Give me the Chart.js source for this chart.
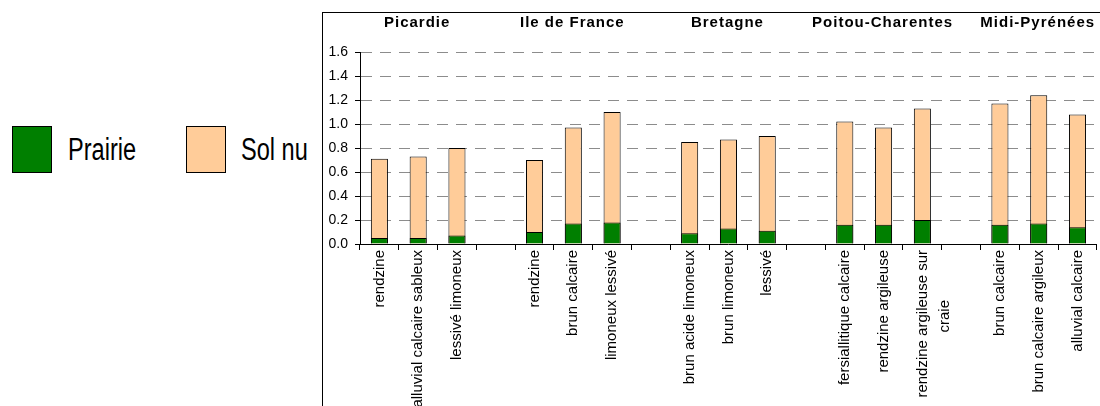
<!DOCTYPE html>
<html>
<head>
<meta charset="utf-8">
<script src="https://cdn.jsdelivr.net/npm/chart.js@4/dist/chart.umd.min.js"></script>
<style>
    html, body { margin: 0; padding: 0; background: #fff; overflow: hidden; }
    body { width: 1100px; height: 406px; position: relative; font-family: 'Liberation Sans', Arial, sans-serif; }
    .legend-box { position: absolute; top: 126px; width: 38px; height: 45px; border: 1px solid #000; }
    .legend-text { position: absolute; top: 132px; font-size: 31px; line-height: 36px; color: #000;
                   transform: scaleX(0.76); transform-origin: left center; white-space: nowrap; }
    #frame { position: absolute; left: 322px; top: 12px; width: 800px; height: 420px;
             border-left: 1px solid #000; border-top: 1px solid #000; }
    #wrap { position: absolute; left: 0; top: 0; width: 777px; height: 393px; }
</style>
</head>
<body>

<div class="legend-box" style="left:12px; background:#007F00;"></div>
<div class="legend-text" style="left:68px;">Prairie</div>
<div class="legend-box" style="left:186px; background:#FFCC99;"></div>
<div class="legend-text" style="left:241px;">Sol nu</div>

<div id="frame">
    <div id="wrap"><canvas id="soilChart"></canvas></div>
</div>

<script>
// Regions (group titles on top) and soils, 3 soils per region
const regions = ['Picardie', 'Ile de France', 'Bretagne', 'Poitou-Charentes', 'Midi-Pyrénées'];

const soilLabels = [
    'rendzine', 'alluvial calcaire sableux', 'lessivé limoneux',
    'rendzine', 'brun calcaire', 'limoneux lessivé',
    'brun acide limoneux', 'brun limoneux', 'lessivé',
    'fersiallitique calcaire', 'rendzine argileuse', ['rendzine argileuse sur', 'craie            '],
    'brun calcaire', 'brun calcaire argileux', 'alluvial calcaire'
];

// Values
const prairieValues = [
    0.05, 0.05, 0.07,
    0.10, 0.17, 0.18,
    0.09, 0.13, 0.11,
    0.16, 0.16, 0.20,
    0.16, 0.17, 0.14
];

const solNuValues = [
    0.71, 0.73, 0.80,
    0.70, 0.97, 1.10,
    0.85, 0.87, 0.90,
    1.02, 0.97, 1.13,
    1.17, 1.24, 1.08
];

const yTicks = { min: 0, max: 1.6, step: 0.2 };

/**
 * Build the slot arrays: 3 soils per region, one empty slot between regions
 */
function buildSlots() {
    const labels = [], middle = [], prairie = [], solNu = [];
    regions.forEach((region, r) => {
        for (let i = 0; i < 3; i++) {
            const k = r * 3 + i;
            labels.push(soilLabels[k]);
            prairie.push(prairieValues[k]);
            solNu.push(solNuValues[k]);
        }
        middle.push(labels.length - 2);
        if (r < regions.length - 1) {
            labels.push('');
            prairie.push(null);
            solNu.push(null);
        }
    });
    return { labels, middle, prairie, solNu };
}

const slots = buildSlots();
const FONT = "'Liberation Sans', Arial, sans-serif";

// Region titles above the plot, placed on the x scale
const regionTitles = {
    id: 'regionTitles',
    afterDraw(chart) {
        const ctx = chart.ctx;
        const xScale = chart.scales.x;
        ctx.save();
        ctx.font = 'bold 15px ' + FONT;
        ctx.letterSpacing = '1px';
        ctx.fillStyle = '#000';
        ctx.textAlign = 'center';
        ctx.textBaseline = 'middle';
        regions.forEach((region, r) => {
            ctx.fillText(region, xScale.getPixelForValue(slots.middle[r]) - 1, 10);
        });
        ctx.restore();
    }
};

new Chart(document.getElementById('soilChart'), {
    type: 'bar',
    data: {
        labels: slots.labels,
        datasets: [
            {
                label: 'Prairie',
                data: slots.prairie,
                backgroundColor: '#007F00',
                borderColor: '#000',
                borderWidth: 1,
                barPercentage: 0.44,
                categoryPercentage: 1
            },
            {
                label: 'Sol nu',
                data: slots.solNu,
                backgroundColor: '#FFCC99',
                borderColor: '#000',
                borderWidth: 1,
                barPercentage: 0.44,
                categoryPercentage: 1
            }
        ]
    },
    plugins: [regionTitles],
    options: {
        responsive: true,
        maintainAspectRatio: false,
        animation: false,
        layout: { padding: { top: 39 } },
        plugins: {
            legend: { display: false },
            tooltip: { enabled: false }
        },
        scales: {
            x: {
                stacked: true,
                position: 'bottom',
                grid: {
                    display: true,
                    drawOnChartArea: false,
                    drawTicks: true,
                    tickLength: 6,
                    color: '#000',
                    offset: true
                },
                border: { display: true, color: '#000', width: 1 },
                ticks: {
                    autoSkip: false,
                    maxRotation: 90,
                    minRotation: 90,
                    padding: 0,
                    color: '#000',
                    font: { family: FONT, size: 15, lineHeight: 1.5 }
                },
                afterFit: function(scale) { scale.height = 162; }
            },
            y: {
                stacked: false,
                min: yTicks.min,
                max: yTicks.max,
                grid: {
                    color: (ctx) => (ctx.tick && ctx.tick.value === 0) ? 'rgba(0,0,0,0)' : '#8c8c8c',
                    tickColor: '#000',
                    tickLength: 5,
                    lineWidth: 1
                },
                border: { display: true, color: '#000', width: 1, dash: [11, 8] },
                ticks: {
                    stepSize: yTicks.step,
                    padding: 7,
                    color: '#000',
                    font: { family: FONT, size: 14 },
                    callback: (v) => Number(v).toFixed(1)
                },
                afterFit: function(scale) { scale.width = 37; }
            }
        }
    }
});
</script>
</body>
</html>
